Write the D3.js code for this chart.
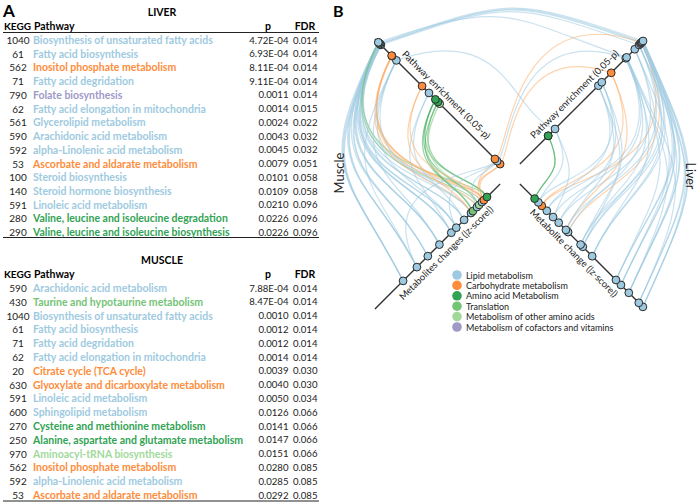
<!DOCTYPE html>
<html><head><meta charset="utf-8">
<script src="https://cdn.jsdelivr.net/npm/d3@7"></script>
<style>body{margin:0;background:#fff} svg{display:block} text{font-family:Lato,'Open Sans',sans-serif}</style>
</head><body><svg id="c" width="699" height="502"></svg>
<script>
// ---------- categories ----------
const categories = ["lipid","carb","amino","transl","other","cofac"];
const categoryLabels = ["Lipid metabolism","Carbohydrate metabolism","Amino acid Metabolism","Translation","Metabolism of other amino acids","Metabolism of cofactors and vitamins"];
const categoryColors = ["#9ecae1","#fd8d3c","#31a354","#74c476","#a1d99b","#9e9ac8"];
const edgeColors = ["#9ecae1","#fdae6b","#41ab5d","#74c476","#a1d99b","#9e9ac8"];

// ---------- liver table ----------
const liverKegg = [1040,61,562,71,790,62,561,590,592,53,100,140,591,280,290];
const liverNames = ["Biosynthesis of unsaturated fatty acids","Fatty acid biosynthesis","Inositol phosphate metabolism","Fatty acid degridation","Folate biosynthesis","Fatty acid elongation in mitochondria","Glycerolipid metabolism","Arachidonic acid metabolism","alpha-Linolenic acid metabolism","Ascorbate and aldarate metabolism","Steroid biosynthesis","Steroid hormone biosynthesis","Linoleic acid metabolism","Valine, leucine and isoleucine degradation","Valine, leucine and isoleucine biosynthesis"];
const liverP = [4.72e-4,6.93e-4,8.11e-4,9.11e-4,0.0011,0.0014,0.0024,0.0043,0.0045,0.0079,0.0101,0.0109,0.0210,0.0226,0.0226];
const liverFDR = [0.014,0.014,0.014,0.014,0.014,0.015,0.022,0.032,0.032,0.051,0.058,0.058,0.096,0.096,0.096];
const liverCat = ["lipid","lipid","carb","lipid","cofac","lipid","lipid","lipid","lipid","carb","lipid","lipid","lipid","amino","amino"];

// ---------- muscle table ----------
const muscleKegg = [590,430,1040,61,71,62,20,630,591,600,270,250,970,562,592,53];
const muscleNames = ["Arachidonic acid metabolism","Taurine and hypotaurine metabolism","Biosynthesis of unsaturated fatty acids","Fatty acid biosynthesis","Fatty acid degridation","Fatty acid elongation in mitochondria","Citrate cycle (TCA cycle)","Glyoxylate and dicarboxylate metabolism","Linoleic acid metabolism","Sphingolipid metabolism","Cysteine and methionine metabolism","Alanine, aspartate and glutamate metabolism","Aminoacyl-tRNA biosynthesis","Inositol phosphate metabolism","alpha-Linolenic acid metabolism","Ascorbate and aldarate metabolism"];
const muscleP = [7.88e-4,8.47e-4,0.0010,0.0012,0.0012,0.0014,0.0039,0.0040,0.0050,0.0126,0.0141,0.0147,0.0151,0.0280,0.0285,0.0292];
const muscleFDR = [0.014,0.014,0.014,0.014,0.014,0.014,0.030,0.030,0.034,0.066,0.066,0.066,0.066,0.085,0.085,0.085];
const muscleCat = ["lipid","transl","lipid","lipid","lipid","lipid","carb","carb","lipid","lipid","amino","amino","other","carb","lipid","carb"];
// an extra pathway node visible on the muscle axis
const muscleExtraKegg = ["x1"];
const muscleExtraP = [0.0110];
const muscleExtraCat = ["carb"];

// ---------- metabolite axes (|z-score|) ----------
const muscleMetZ = [2.42,2.52,2.58,2.67,2.74,2.87,2.93,3.15,3.40,3.56,3.94,4.31,4.66,5.10];
const muscleMetCat = ["amino","carb","lipid","other","lipid","transl","lipid","lipid","lipid","lipid","lipid","lipid","lipid","lipid"];
const liverMetZ = [2.47,2.59,2.70,2.86,3.06,3.24,3.47,3.54,3.94,4.01,4.31,5.07,5.23,5.48,5.80,5.93];
const liverMetCat = ["amino","lipid","carb","lipid","lipid","lipid","lipid","lipid","lipid","lipid","lipid","lipid","lipid","lipid","lipid","lipid"];

// ---------- edges [pathway KEGG, metabolite index] ----------
const muscleEdges = [[590,13],[590,12],[590,11],[590,10],[590,9],[590,8],[1040,13],[1040,12],[1040,10],[1040,7],[1040,6],[61,13],[61,11],[61,9],[61,4],[71,12],[71,10],[71,8],[71,2],[62,13],[62,11],[62,9],[62,7],[430,3],[430,0],[20,1],[20,2],[20,6],[630,1],[630,4],[591,12],[591,10],[591,8],[591,6],[600,9],[600,7],[270,0],[270,5],[270,3],[250,0],[250,5],[970,5],[970,3],[562,1],[592,12],[592,8],[592,4],[53,1],[53,2],["x1",1],["x1",6]];
const liverEdges = [[1040,15],[1040,14],[1040,13],[1040,11],[1040,9],[61,15],[61,13],[61,12],[61,10],[562,2],[562,7],[71,14],[71,12],[71,11],[71,8],[62,15],[62,13],[62,10],[62,6],[561,12],[561,9],[561,5],[590,14],[590,11],[590,8],[590,4],[592,13],[592,10],[592,7],[592,3],[53,2],[53,6],[100,8],[100,5],[100,1],[140,9],[140,6],[140,3],[591,4],[591,1],[280,0],[290,0]];

// =====================================================
const svg = d3.select("#c");
const colorOf = d3.scaleOrdinal().domain(categories).range(categoryColors);
const edgeColorOf = d3.scaleOrdinal().domain(categories).range(edgeColors);

function fmtP(p){
  if (p < 0.001){ const [m,e] = p.toExponential(2).split("e"); const n = Math.abs(+e); return m + "E-" + (n<10?"0":"") + n; }
  return p.toFixed(4);
}

// ---------- Panel A ----------
svg.append("text").attr("x",3).attr("y",17).attr("font-size",17).attr("font-weight",700).text("A");

function drawTable(title, titleY, headerY, headerLine, rowY0, step, kegg, names, p, fdr, cat, bottomY){
  const g = svg.append("g").attr("font-size",10.5);
  g.append("text").attr("x",162).attr("y",titleY).attr("text-anchor","middle").attr("dominant-baseline","central").attr("font-weight",700).text(title);
  const h = g.append("g").attr("font-weight",700).attr("dominant-baseline","central");
  h.append("text").attr("x",31).attr("y",headerY).attr("text-anchor","end").attr("font-size",10).text("KEGG");
  h.append("text").attr("x",34).attr("y",headerY).text("Pathway");
  h.append("text").attr("x",268).attr("y",headerY).attr("text-anchor","middle").text("p");
  h.append("text").attr("x",305).attr("y",headerY).attr("text-anchor","middle").text("FDR");
  if (headerLine) g.append("line").attr("x1",3).attr("x2",319).attr("y1",headerLine).attr("y2",headerLine).attr("stroke","#222").attr("stroke-width",1);
  g.append("line").attr("x1",3).attr("x2",319).attr("y1",bottomY).attr("y2",bottomY).attr("stroke","#222").attr("stroke-width",1);
  const y = d3.scaleLinear().domain([0,1]).range([rowY0,rowY0+step]);
  kegg.forEach((k,i)=>{
    const row = g.append("g").attr("dominant-baseline","central").attr("fill","#222");
    row.append("text").attr("x",18).attr("y",y(i)).attr("text-anchor","middle").attr("font-size",10).text(k);
    row.append("text").attr("x",33).attr("y",y(i)).attr("fill",colorOf(cat[i])).attr("font-weight",700).text(names[i]);
    row.append("text").attr("x",288.5).attr("y",y(i)).attr("text-anchor","end").attr("font-size",9.6).text(fmtP(p[i]));
    row.append("text").attr("x",317.5).attr("y",y(i)).attr("text-anchor","end").attr("font-size",9.6).text(fdr[i].toFixed(3));
  });
}
drawTable("LIVER",12,26,32.5,40,13.73,liverKegg,liverNames,liverP,liverFDR,liverCat,237.5);
drawTable("MUSCLE",260,274,null,288,13.8,muscleKegg,muscleNames,muscleP,muscleFDR,muscleCat,501);

// ---------- Panel B ----------
svg.append("text").attr("x",333).attr("y",17).attr("font-size",16).attr("font-weight",700).text("B");

const cx = 510, cy = 174;
const rPath = d3.scaleLinear().domain([0.0208,0.0500]).range([14,191]); // 0.05 - p
const rMet = d3.scaleLinear().domain([2,6]).range([14,191]);            // |z-score|
const ang = {mPath:-135, mMet:135, lPath:-45, lMet:45};
function pt(a,r){ const t=a*Math.PI/180; return [cx+r*Math.cos(t), cy+r*Math.sin(t)]; }

const mPathNodes = muscleKegg.map((k,i)=>({k, r:rPath(0.05-muscleP[i]), cat:muscleCat[i]}))
  .concat(muscleExtraKegg.map((k,i)=>({k, r:rPath(0.05-muscleExtraP[i]), cat:muscleExtraCat[i]})));
const lPathNodes = liverKegg.map((k,i)=>({k, r:rPath(0.05-liverP[i]), cat:liverCat[i]}));
const mMetNodes = muscleMetZ.map((z,i)=>({r:rMet(z), cat:muscleMetCat[i]}));
const lMetNodes = liverMetZ.map((z,i)=>({r:rMet(z), cat:liverMetCat[i]}));
const mByK = new Map(mPathNodes.map(d=>[d.k,d]));
const lByK = new Map(lPathNodes.map(d=>[d.k,d]));

function link(a1,r1,a2,r2,am,k){
  const p1=pt(a1,r1), p2=pt(a2,r2), c1=pt(am,r1*k), c2=pt(am,r2*k);
  const p=d3.path(); p.moveTo(p1[0],p1[1]); p.bezierCurveTo(c1[0],c1[1],c2[0],c2[1],p2[0],p2[1]); return p.toString();
}

const edges = [];
muscleEdges.forEach(([k,j])=>{ const s=mByK.get(k); edges.push({d:link(ang.mPath,s.r,ang.mMet,mMetNodes[j].r,180,1.07), cat:s.cat}); });
liverEdges.forEach(([k,j])=>{ const s=lByK.get(k); edges.push({d:link(ang.lPath,s.r,ang.lMet,lMetNodes[j].r,0,1.03), cat:s.cat}); });
muscleKegg.filter(k=>lByK.has(k)).forEach(k=>{ const s=mByK.get(k), t=lByK.get(k); edges.push({d:link(ang.mPath,s.r,ang.lPath,t.r,-90,0.95), cat:s.cat}); });

svg.append("g").attr("fill","none").selectAll("path").data(edges).join("path")
  .attr("d",d=>d.d).attr("stroke",d=>edgeColorOf(d.cat)).attr("stroke-width",1.2).attr("stroke-opacity",0.55);

// axes
const axG = svg.append("g").attr("stroke","#333").attr("stroke-width",1.4);
Object.values(ang).forEach(a=>{ const p0=pt(a,14), p1=pt(a,191); axG.append("line").attr("x1",p0[0]).attr("y1",p0[1]).attr("x2",p1[0]).attr("y2",p1[1]); });

function drawNodes(nodes,a){
  svg.append("g").selectAll("circle").data(nodes.slice().reverse()).join("circle")
    .attr("cx",d=>pt(a,d.r)[0]).attr("cy",d=>pt(a,d.r)[1]).attr("r",3.9)
    .attr("fill",d=>colorOf(d.cat)).attr("stroke","#2a2a2a").attr("stroke-width",1);
}
drawNodes(mPathNodes,ang.mPath); drawNodes(lPathNodes,ang.lPath);
drawNodes(mMetNodes,ang.mMet); drawNodes(lMetNodes,ang.lMet);

// axis labels
function axisLabel(text,a,r,perpA,off,rot){
  const p=pt(a,r); const t=perpA*Math.PI/180;
  svg.append("text").attr("transform",`translate(${p[0]+off*Math.cos(t)},${p[1]+off*Math.sin(t)}) rotate(${rot})`)
    .attr("text-anchor","middle").attr("font-size",9.5).attr("fill","#222").text(text);
}
axisLabel("Pathway enrichment (0.05-p)",ang.mPath,101,-45,7.5,45);
axisLabel("Pathway enrichment (0.05-p)",ang.lPath,102,-135,7.5,-45);
axisLabel("Metabolites changes (|z-score|)",ang.mMet,101,45,14,-45);
axisLabel("Metabolite change (|z-score|)",ang.lMet,101,135,14,45);

svg.append("text").attr("transform","translate(344,173) rotate(-90)").attr("text-anchor","middle").attr("font-size",13).attr("fill","#222").text("Muscle");
svg.append("text").attr("transform","translate(686,176) rotate(90)").attr("text-anchor","middle").attr("font-size",12.5).attr("fill","#222").text("Liver");

// legend
const ly = d3.scaleLinear().domain([0,1]).range([275,285.4]);
const lg = svg.append("g");
categories.forEach((c,i)=>{
  lg.append("circle").attr("cx",457).attr("cy",ly(i)).attr("r",4.8).attr("fill",categoryColors[i]);
  lg.append("text").attr("x",466).attr("y",ly(i)).attr("dominant-baseline","central").attr("font-size",9).attr("fill","#222").text(categoryLabels[i]);
});
</script></body></html>
